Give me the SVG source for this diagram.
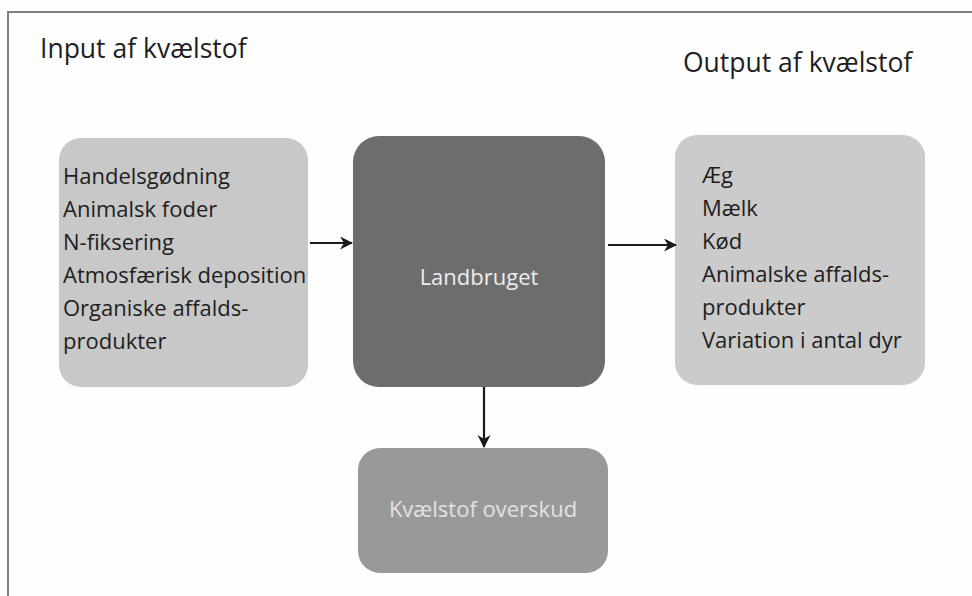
<svg xmlns="http://www.w3.org/2000/svg" width="972" height="596" viewBox="0 0 972 596">
<style>
.t{font-family:"Open Sans","Liberation Sans",sans-serif;fill:#1e1e1e}
.h{font-size:26.5px}
.l{font-size:22px}
.w{font-family:"Open Sans","Liberation Sans",sans-serif;font-size:22px;text-anchor:middle}
.c{stroke:#1a1a1a;stroke-width:2.2;fill:none}
</style>
<defs>
<marker id="ah" markerWidth="13" markerHeight="13" refX="12" refY="6.5" orient="auto" markerUnits="userSpaceOnUse"><path d="M0,0 L13,6.5 L0,13 L4,6.5 Z" fill="#1a1a1a"/></marker>
</defs>
<rect width="972" height="596" fill="#fefefe"/>
<path d="M8,596 V12 H972" fill="none" stroke="#808080" stroke-width="2"/>
<text class="t h" x="40" y="58">Input af kvælstof</text>
<text class="t h" x="683" y="72">Output af kvælstof</text>
<g id="input">
<rect x="59" y="138" width="249" height="249" rx="22" fill="#c8c8c8"/>
<text class="t l" x="63" y="184">Handelsgødning</text>
<text class="t l" x="63" y="217">Animalsk foder</text>
<text class="t l" x="63" y="250">N-fiksering</text>
<text class="t l" x="63" y="283">Atmosfærisk deposition</text>
<text class="t l" x="63" y="316">Organiske affalds-</text>
<text class="t l" x="63" y="349">produkter</text>
</g>
<g id="landbruget">
<rect x="353" y="136" width="252" height="251" rx="26" fill="#6d6d6d"/>
<text class="w" x="479" y="285" fill="#eeeeee">Landbruget</text>
</g>
<g id="output">
<rect x="675" y="135" width="250" height="250" rx="22" fill="#cbcbcb"/>
<text class="t l" x="702" y="183">Æg</text>
<text class="t l" x="702" y="216">Mælk</text>
<text class="t l" x="702" y="249">Kød</text>
<text class="t l" x="702" y="282">Animalske affalds-</text>
<text class="t l" x="702" y="315">produkter</text>
<text class="t l" x="702" y="348">Variation i antal dyr</text>
</g>
<g id="overskud">
<rect x="358" y="448" width="250" height="125" rx="22" fill="#999999"/>
<text class="w" x="483" y="517" fill="#e2e2e2">Kvælstof overskud</text>
</g>
<g id="connectors">
<line class="c" x1="310" y1="243" x2="352" y2="243" marker-end="url(#ah)"/>
<line class="c" x1="608" y1="245" x2="676" y2="245" marker-end="url(#ah)"/>
<line class="c" x1="484" y1="387" x2="484" y2="447" marker-end="url(#ah)"/>
</g>
</svg>
